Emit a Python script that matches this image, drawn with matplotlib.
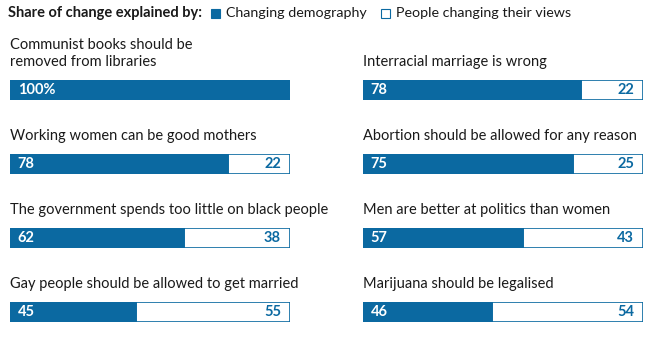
import matplotlib.pyplot as plt
from matplotlib.patches import Rectangle

plt.rcParams['font.family'] = ['Lato', 'DejaVu Sans']

questions = [
    "Communist books should be\nremoved from libraries",
    "Working women can be good mothers",
    "The government spends too little on black people",
    "Gay people should be allowed to get married",
    "Interracial marriage is wrong",
    "Abortion should be allowed for any reason",
    "Men are better at politics than women",
    "Marijuana should be legalised",
]
demography = [100, 78, 62, 45, 78, 75, 57, 46]
views = [0, 22, 38, 55, 22, 25, 43, 54]

blue = '#0b69a1'
text_col = '#1a1a1a'

W, H = 664, 358
fig = plt.figure(figsize=(W / 100, H / 100), dpi=100)

col_x = [10, 363]
bar_w = 280
row_y = [80, 154, 228, 302]
bar_h = 20

for i, q in enumerate(questions):
    col = i // 4
    row = i % 4
    x0 = col_x[col]
    y0 = row_y[row]
    ax = fig.add_axes([x0 / W, 1 - (y0 + bar_h) / H, bar_w / W, bar_h / H])
    ax.set_xlim(0, 100)
    ax.set_ylim(-0.5, 0.5)
    ax.axis('off')
    d = demography[i]
    v = views[i]
    ax.barh(0, v, left=d, height=1, color='white', edgecolor=blue, linewidth=1.2)
    ax.barh(0, d, height=1, color=blue, edgecolor=blue, linewidth=1.2)
    lbl = '100%' if d == 100 else str(d)
    ax.text(2.8, 0, lbl, color='white', fontweight='bold', fontsize=10.5,
            va='center', ha='left')
    if v > 0:
        ax.text(96.8, 0, str(v), color=blue, fontweight='bold', fontsize=10.5,
                va='center', ha='right')
    # question label above the bar
    ax.text(0, 1.55, q, transform=ax.transAxes, ha='left', va='bottom',
            fontsize=10.5, color=text_col, linespacing=1.3)

# header with legend
fig.text(8 / W, 1 - 13 / H, 'Share of change explained by:', fontsize=10.5,
         fontweight='bold', color=text_col, va='center', ha='left')
fig.patches.append(Rectangle((211 / W, 1 - 18 / H), 9 / W, 9 / H,
                             transform=fig.transFigure, facecolor=blue,
                             edgecolor=blue, lw=0.8))
fig.text(226 / W, 1 - 13 / H, 'Changing demography', fontsize=10.3,
         color=text_col, va='center', ha='left')
fig.patches.append(Rectangle((381 / W, 1 - 18 / H), 9 / W, 9 / H,
                             transform=fig.transFigure, facecolor='white',
                             edgecolor=blue, lw=0.8))
fig.text(396 / W, 1 - 13 / H, 'People changing their views', fontsize=10.3,
         color=text_col, va='center', ha='left')

fig.savefig('out.png', dpi=100)
